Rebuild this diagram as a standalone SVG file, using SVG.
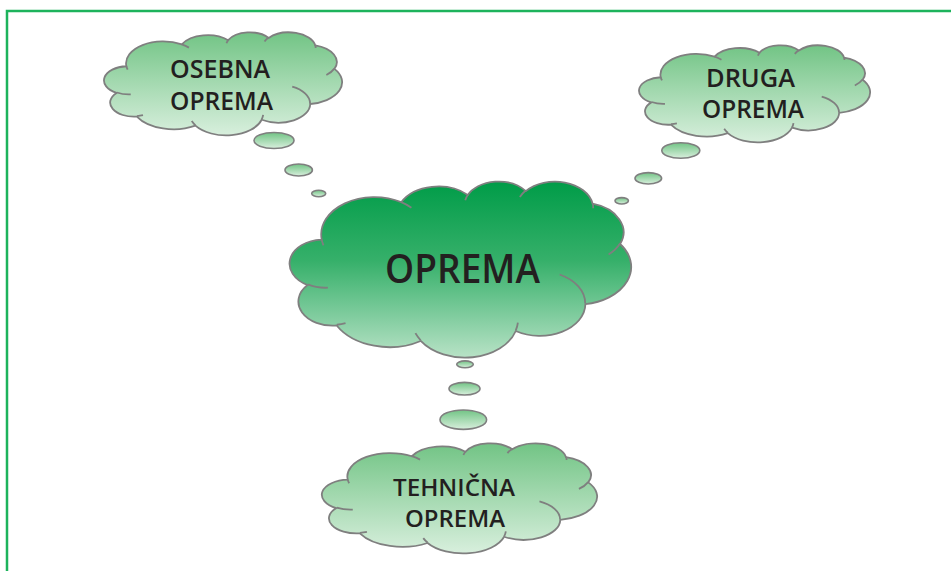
<svg xmlns="http://www.w3.org/2000/svg" width="951" height="571" viewBox="0 0 951 571">
<style>
.edge{fill:none;stroke:#7f7f7f;stroke-width:1.8;vector-effect:non-scaling-stroke;stroke-linejoin:round}
.big{fill:url(#gBig)}
.small{fill:url(#gSmall)}
.bub{fill:url(#gSmall);stroke:#7f7f7f;stroke-width:1.6}
.lbl{font-family:"Open Sans","Noto Sans","Liberation Sans",sans-serif;font-weight:600;fill:#231f20;text-anchor:middle}
</style>
<defs>
<linearGradient id="gBig" x1="0" y1="0" x2="0" y2="1">
<stop offset="0" stop-color="#009c48"/>
<stop offset="0.45" stop-color="#36b06a"/>
<stop offset="1" stop-color="#b8e2c6"/>
</linearGradient>
<linearGradient id="gSmall" x1="0" y1="0" x2="0" y2="1">
<stop offset="0" stop-color="#72c485"/>
<stop offset="1" stop-color="#d8efdd"/>
</linearGradient>
</defs>
<rect x="7" y="11" width="960" height="600" fill="#ffffff" stroke="#1db35c" stroke-width="2.5"/>
<g id="connectors">
<ellipse class="bub" cx="274" cy="140.5" rx="20" ry="8"/>
<ellipse class="bub" cx="298.7" cy="170" rx="13.7" ry="6"/>
<ellipse class="bub" cx="318.7" cy="193.5" rx="7" ry="3.2"/>
<ellipse class="bub" cx="680.8" cy="150.5" rx="19" ry="7.8"/>
<ellipse class="bub" cx="648.3" cy="178.3" rx="13.3" ry="5.7"/>
<ellipse class="bub" cx="621.7" cy="200.8" rx="6.7" ry="3.2"/>
<ellipse class="bub" cx="465" cy="364.3" rx="8.3" ry="3.4"/>
<ellipse class="bub" cx="464.5" cy="388.7" rx="15.5" ry="6.3"/>
<ellipse class="bub" cx="463.3" cy="419.7" rx="23.3" ry="9.7"/>
</g>
<g id="oprema">
<g transform="translate(291,181) scale(0.0078704,0.0040741)">
<path class="edge big" d="M3900 14370A6753 9190 0 0 1 14005 5203A5333 7267 0 0 1 22458 3435A4365 5945 0 0 1 29835 2484A4857 6595 0 0 1 38320 5578A5333 7273 0 0 1 41821 15462A6775 9220 0 0 1 37406 30205A5785 7867 0 0 1 28558 36815A6752 9215 0 0 1 16483 39267A7720 10543 0 0 1 5807 35472A4360 5918 0 0 1 2115 25550A4345 5945 0 0 1 3900 14370Z"/>
<path class="edge" d="M4693 26177A4345 5945 0 0 1 2160 25380M6928 34899A4360 5918 0 0 1 5820 35281M16478 39090A6752 9215 0 0 1 15810 37349M28827 34751A6752 9215 0 0 1 28560 36660M34129 22954A5785 7867 0 0 1 37381 30090M41798 15354A5333 7273 0 0 1 40350 18030M38324 5426A4857 6595 0 0 1 38400 6690M29078 3952A4857 6595 0 0 1 29819 2340M22141 4720A4365 5945 0 0 1 22500 3331M14000 5192A6753 9190 0 0 1 15301 6543M4127 15789A6753 9190 0 0 1 3900 14371"/>
</g>
<text class="lbl" x="462.5" y="282.5" font-size="39" textLength="155" lengthAdjust="spacingAndGlyphs">OPREMA</text>
</g>
<g id="osebna">
<g transform="translate(105,32) scale(0.0054861,0.0023843)">
<path class="edge small" d="M3900 14370A6753 9190 0 0 1 14005 5203A5333 7267 0 0 1 22458 3435A4365 5945 0 0 1 29835 2484A4857 6595 0 0 1 38320 5578A5333 7273 0 0 1 41821 15462A6775 9220 0 0 1 37406 30205A5785 7867 0 0 1 28558 36815A6752 9215 0 0 1 16483 39267A7720 10543 0 0 1 5807 35472A4360 5918 0 0 1 2115 25550A4345 5945 0 0 1 3900 14370Z"/>
<path class="edge" d="M4693 26177A4345 5945 0 0 1 2160 25380M6928 34899A4360 5918 0 0 1 5820 35281M16478 39090A6752 9215 0 0 1 15810 37349M28827 34751A6752 9215 0 0 1 28560 36660M34129 22954A5785 7867 0 0 1 37381 30090M41798 15354A5333 7273 0 0 1 40350 18030M38324 5426A4857 6595 0 0 1 38400 6690M29078 3952A4857 6595 0 0 1 29819 2340M22141 4720A4365 5945 0 0 1 22500 3331M14000 5192A6753 9190 0 0 1 15301 6543M4127 15789A6753 9190 0 0 1 3900 14371"/>
</g>
<text class="lbl" x="220" y="78.3" font-size="24.5" textLength="100" lengthAdjust="spacingAndGlyphs">OSEBNA</text>
<text class="lbl" x="221.5" y="110" font-size="24.5" textLength="103" lengthAdjust="spacingAndGlyphs">OPREMA</text>
</g>
<g id="druga">
<g transform="translate(640,45) scale(0.0053241,0.0022454)">
<path class="edge small" d="M3900 14370A6753 9190 0 0 1 14005 5203A5333 7267 0 0 1 22458 3435A4365 5945 0 0 1 29835 2484A4857 6595 0 0 1 38320 5578A5333 7273 0 0 1 41821 15462A6775 9220 0 0 1 37406 30205A5785 7867 0 0 1 28558 36815A6752 9215 0 0 1 16483 39267A7720 10543 0 0 1 5807 35472A4360 5918 0 0 1 2115 25550A4345 5945 0 0 1 3900 14370Z"/>
<path class="edge" d="M4693 26177A4345 5945 0 0 1 2160 25380M6928 34899A4360 5918 0 0 1 5820 35281M16478 39090A6752 9215 0 0 1 15810 37349M28827 34751A6752 9215 0 0 1 28560 36660M34129 22954A5785 7867 0 0 1 37381 30090M41798 15354A5333 7273 0 0 1 40350 18030M38324 5426A4857 6595 0 0 1 38400 6690M29078 3952A4857 6595 0 0 1 29819 2340M22141 4720A4365 5945 0 0 1 22500 3331M14000 5192A6753 9190 0 0 1 15301 6543M4127 15789A6753 9190 0 0 1 3900 14371"/>
</g>
<text class="lbl" x="750.5" y="86.7" font-size="24.5" textLength="89" lengthAdjust="spacingAndGlyphs">DRUGA</text>
<text class="lbl" x="753" y="118.3" font-size="24.5" textLength="102" lengthAdjust="spacingAndGlyphs">OPREMA</text>
</g>
<g id="tehnicna">
<g transform="translate(323,443) scale(0.0063426,0.0025463)">
<path class="edge small" d="M3900 14370A6753 9190 0 0 1 14005 5203A5333 7267 0 0 1 22458 3435A4365 5945 0 0 1 29835 2484A4857 6595 0 0 1 38320 5578A5333 7273 0 0 1 41821 15462A6775 9220 0 0 1 37406 30205A5785 7867 0 0 1 28558 36815A6752 9215 0 0 1 16483 39267A7720 10543 0 0 1 5807 35472A4360 5918 0 0 1 2115 25550A4345 5945 0 0 1 3900 14370Z"/>
<path class="edge" d="M4693 26177A4345 5945 0 0 1 2160 25380M6928 34899A4360 5918 0 0 1 5820 35281M16478 39090A6752 9215 0 0 1 15810 37349M28827 34751A6752 9215 0 0 1 28560 36660M34129 22954A5785 7867 0 0 1 37381 30090M41798 15354A5333 7273 0 0 1 40350 18030M38324 5426A4857 6595 0 0 1 38400 6690M29078 3952A4857 6595 0 0 1 29819 2340M22141 4720A4365 5945 0 0 1 22500 3331M14000 5192A6753 9190 0 0 1 15301 6543M4127 15789A6753 9190 0 0 1 3900 14371"/>
</g>
<text class="lbl" x="454" y="496.2" font-size="24" textLength="122" lengthAdjust="spacingAndGlyphs">TEHNIČNA</text>
<text class="lbl" x="455" y="527.2" font-size="24" textLength="100" lengthAdjust="spacingAndGlyphs">OPREMA</text>
</g>
</svg>
